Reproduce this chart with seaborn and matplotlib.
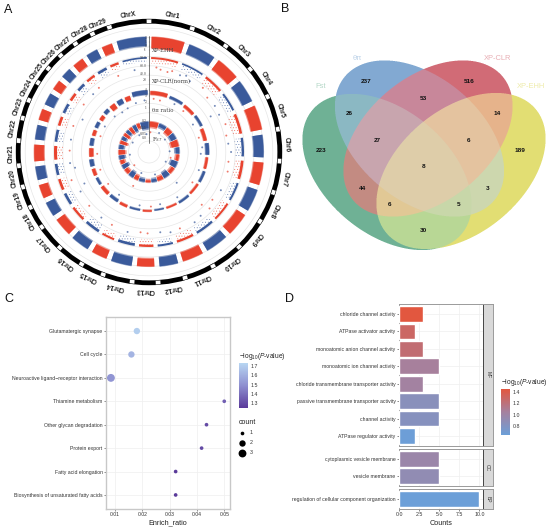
import numpy as np
import pandas as pd
import matplotlib
matplotlib.use("Agg")
import matplotlib.pyplot as plt
import seaborn as sns
from matplotlib.colors import LinearSegmentedColormap, Normalize
from matplotlib.cm import ScalarMappable

# Panel A: circular genome scan
chrom_names = [f"Chr{i}" for i in range(1, 30)] + ["ChrX"]
chrom_span = [19.3, 16.6, 14.8, 14.3, 15.0, 14.0, 14.0, 14.0, 14.5, 14.2, 13.3, 12.0, 11.4, 13.1, 10.5,
              12.0, 12.0, 10.0, 9.5, 9.5, 11.0, 10.0, 8.3, 8.7, 7.7, 7.8, 8.3, 8.6, 8.0, 17.6]
ehh_hi = [2.4, 2.3, 2.4, 2.3, 2.4, 2.2, 2.3, 2.3, 2.3, 2.2, 2.2, 2.3, 2.2, 2.4, 2.3,
          2.3, 2.2, 2.3, 2.3, 2.2, 2.3, 2.2, 2.3, 2.2, 2.2, 2.3, 2.2, 2.3, 2.2, 2.4]
ehh_lo = [-1.6, -1.3, -1.6, -1.4, -1.5, -1.3, -1.2, -1.3, -1.2, -1.0, -1.1, -1.0, -0.7, -0.9, -0.9,
          -1.0, -1.2, -1.1, -1.0, -1.2, -1.2, -1.1, -1.1, -1.2, -1.1, -1.2, -1.0, -1.1, -1.1, -0.9]
clr_base = [88, 90, 86, 88, 84, 86, 84, 88, 88, 86, 86, 88, 86, 84, 88,
            84, 86, 84, 84, 84, 82, 84, 84, 84, 84, 84, 86, 84, 86, 90]
clr_fringe = [62, 60, 48, 52, 40, 48, 50, 56, 54, 58, 52, 60, 54, 52, 60,
              48, 60, 46, 50, 48, 48, 52, 44, 54, 48, 48, 56, 52, 60, 70]
pi_hi = [3.6, 3.3, 3.2, 3.3, 3.1, 3.4, 3.2, 3.3, 3.2, 3.3, 3.2, 3.1, 3.3, 3.2, 3.3,
         3.2, 3.3, 3.2, 3.3, 3.4, 3.3, 3.3, 3.2, 3.3, 3.2, 3.4, 3.3, 3.3, 3.2, 3.8]
pi_lo = [2.4, 2.4, 2.2, 2.4, 2.0, 2.2, 2.3, 2.4, 2.4, 2.5, 2.5, 2.5, 2.6, 2.5, 2.4,
         2.2, 2.2, 2.3, 2.2, 2.1, 2.0, 2.1, 2.1, 2.2, 2.0, 2.2, 1.6, 1.8, 1.8, 2.4]
fst_hi = [0.30, 0.30, 0.30, 0.30, 0.30, 0.30, 0.30, 0.30, 0.30, 0.30, 0.30, 0.30, 0.30, 0.30, 0.30,
          0.30, 0.30, 0.30, 0.30, 0.30, 0.30, 0.30, 0.30, 0.30, 0.30, 0.30, 0.30, 0.30, 0.30, 0.30]
fst_lo = [0.13, 0.17, 0.12, 0.12, 0.08, 0.16, 0.18, 0.10, 0.17, 0.12, 0.16, 0.18, 0.20, 0.18, 0.15,
          0.12, 0.16, 0.10, 0.15, 0.12, 0.10, 0.14, 0.08, 0.14, 0.10, 0.12, 0.10, 0.10, 0.14, 0.09]
# isolated points: angle in degrees, value on that track
clr_theta = [5, 8, 13, 16, 22, 26, 30, 40, 47, 55, 62, 70, 78, 84, 90, 97, 104, 118, 127, 133, 141, 147, 158, 165, 172,
             181, 186, 195, 207, 216, 228, 240, 250, 258, 262, 271, 279, 289, 296, 306, 316, 322, 338, 350, 60, 135, 244]
clr_value = [40, 30, 24, 36, 28, 40, 22, 34, 10, 14, 8, 20, 6, 10, 24, 12, 18, 20, 8, 28, 24, 34, 26, 30, 18,
             20, 16, 28, 22, 18, 14, 6, 26, -14, 10, 8, 6, 12, -24, 16, 14, 20, 24, 30, -40, -20, -36]
pi_theta = [5, 12, 28, 40, 58, 74, 85, 92, 110, 125, 148, 168, 178, 190, 215, 232, 250, 268, 288, 300, 316, 326, 334, 345, 355, 205, 138]
pi_value = [1.6, 1.4, 1.8, 1.6, 1.2, 1.2, 1.6, 1.2, 1.5, 1.5, 1.6, 1.6, 1.9, 1.8, 1.3, 1.2, 1.2, 1.2, 1.0, 1.0, 0.6, 0.2, 0.4, 0.9, 1.2, -2.4, -1.4]
fst_theta = [4, 28, 52, 88, 105, 120, 165, 200, 228, 262, 300, 330, 352]
fst_value = [0.04, 0.08, 0.05, 0.06, 0.10, 0.03, 0.12, 0.10, 0.04, 0.03, 0.02, 0.03, 0.00]

# Panel B: Venn counts
venn_names = ["Fst", "θπ", "XP-CLR", "XP-EHH"]
venn_counts = [237, 516, 53, 26, 14, 27, 6, 223, 189, 8, 44, 3, 6, 5, 30]

# Panel C: KEGG dots
kegg_terms = ["Glutamatergic synapse", "Cell cycle", "Neuroactive ligand\u2212receptor interaction",
              "Thiamine metabolism", "Other glycan degradation", "Protein export",
              "Fatty acid elongation", "Biosynthesis of unsaturated fatty acids"]
kegg_ratio = [0.018, 0.016, 0.0085, 0.05, 0.0435, 0.0417, 0.0322, 0.0322]
kegg_p = [1.72, 1.63, 1.52, 1.36, 1.30, 1.30, 1.25, 1.25]
kegg_count = [2, 2, 3, 1, 1, 1, 1, 1]

# Panel D: GO bars
go_mf = ["chloride channel activity", "ATPase activator activity", "monoatomic anion channel activity",
         "monoatomic ion channel activity", "chloride transmembrane transporter activity",
         "passive transmembrane transporter activity", "channel activity", "ATPase regulator activity"]
go_mf_counts = [3, 2, 3, 5, 3, 5, 5, 2]
go_mf_p = [1.43, 1.28, 1.22, 1.05, 1.03, 0.85, 0.83, 0.66]
go_cc = ["cytoplasmic vesicle membrane", "vesicle membrane"]
go_cc_counts = [5, 5]
go_cc_p = [0.97, 0.90]
go_bp = ["regulation of cellular component organization"]
go_bp_counts = [10]
go_bp_p = [0.65]

W, H = 550, 529
RED, BLUE = "#E8432F", "#3A5A9B"
FONT = "Liberation Sans"

sns.set_theme(style="whitegrid")
plt.rcParams["font.family"] = [FONT, "DejaVu Sans"]
plt.rcParams["axes.unicode_minus"] = False
plt.rcParams["mathtext.fontset"] = "custom"
plt.rcParams["mathtext.rm"] = FONT
plt.rcParams["mathtext.it"] = FONT + ":italic"
plt.rcParams["hatch.linewidth"] = 0.3
fig = plt.figure(figsize=(W / 100, H / 100), dpi=100)


def px_axes(x0, y0, x1, y1, **kw):
    return fig.add_axes([x0 / W, 1 - y1 / H, (x1 - x0) / W, (y1 - y0) / H], **kw)


# ---------- A ----------
cx, cy, rmax = 149, 152, 146
pol = px_axes(cx - rmax, cy - rmax, cx + rmax, cy + rmax, projection="polar")
pol.set_theta_zero_location("N")
pol.set_theta_direction(-1)
pol.set_rlim(0, rmax)
pol.axis("off")

ends = np.cumsum(chrom_span)
starts = ends - np.array(chrom_span)
mids = (starts + ends) / 2
colors = [BLUE if i % 2 else RED for i in range(30)]
colors[-1] = BLUE
circle = np.linspace(0, 2 * np.pi, 361)
for r in np.arange(11, 125, 9.4):
    pol.plot(circle, np.full(361, r), color="#E6E6E6", lw=0.5, zorder=1)


def to_r(values, v0, v1, r0, r1):
    return r0 + (np.asarray(values, dtype=float) - v0) / (v1 - v0) * (r1 - r0)


def band(lo, hi, alpha=1.0, pad=1.3):
    pol.bar(np.radians(starts + pad), hi - lo, width=np.radians(np.array(chrom_span) - 2 * pad),
            bottom=lo, align="edge", color=colors, alpha=alpha, lw=0, zorder=2)


def fuzzy(lo, hi, edge=1.0, pad=1.3):
    # soft rim then solid core, the dense point clouds blur like this
    band(lo, hi, alpha=0.55, pad=pad)
    band(lo + edge, hi - edge * 0.6, pad=pad)


def stipple(lo, hi, pad=1.3):
    # thin spread of points under a track: dotted hatch, no fill
    bars = pol.bar(np.radians(starts + pad), hi - lo, width=np.radians(np.array(chrom_span) - 2 * pad),
                   bottom=lo, align="edge", facecolor="none", lw=0, zorder=2)
    for b, c in zip(bars, colors):
        b.set_edgecolor(c)
        b.set_hatch("......")
        b.set_alpha(0.75)


def strays(theta, r):
    idx = np.searchsorted(ends, theta)
    df = pd.DataFrame({"t": np.radians(theta), "r": r, "c": [colors[i] for i in idx]})
    sns.scatterplot(data=df, x="t", y="r", hue="c", palette={RED: RED, BLUE: BLUE}, s=2.0,
                    linewidth=0, alpha=0.7, legend=False, ax=pol, zorder=3)


ehh = lambda v: to_r(v, -2.5, 2.5, 100, 116)
clr = lambda v: to_r(v, 0, 100, 78, 95)
pit = lambda v: to_r(v, 0, 4, 47, 63)
fst = lambda v: to_r(v, 0, 0.32, 18, 32)
fuzzy(ehh(ehh_lo), ehh(ehh_hi))
band(clr(clr_base), clr(np.full(30, 100)))
stipple(clr(clr_fringe), clr(clr_base))
fuzzy(pit(pi_lo), pit(pi_hi), edge=0.8)
fuzzy(fst(fst_lo), fst(fst_hi), edge=1.6, pad=0.7)
strays(np.array(clr_theta, float), clr(clr_value))
strays(np.array(pi_theta, float), pit(pi_value))
strays(np.array(fst_theta, float), fst(fst_value))

# chromosome ring with white blocks at the ends
pol.bar(0, 4.8, width=2 * np.pi, bottom=128.4, color="black", lw=0, zorder=2)
pol.bar(np.radians(ends), 4.0, width=np.radians(2.2), bottom=128.8, color="white",
        edgecolor="black", lw=0.2, zorder=3)
for name, t in zip(chrom_names, mids):
    pol.text(np.radians(t), 138, name, rotation=-t, rotation_mode="anchor", ha="center", va="center",
             fontsize=4.8, color="#222222", fontweight="bold")

# track axes down the middle
pol.plot([0, 0], [9, 116], color="#444444", lw=0.5, zorder=4)
track_ticks = [("XP-EHH", 101, [114, 110, 106, 102], ["2", "1", "0", "-1"]),
               ("XP-CLR(norm)", 70, [94, 86, 78, 72], ["90.0", "60.0", "40.0", "20"]),
               ("θπ ratio", 41, [62, 56, 50, 44], ["4", "3", "2", "1"]),
               ("F$_{ST}$", 12, [31, 24, 18, 14], ["0.2", "0.15", "0.05", "0.0"])]
for label, lab_r, rs, labs in track_ticks:
    for r, lab in zip(rs, labs):
        pol.plot([0, np.radians(0.9 * 30 / r)], [r, r], color="#444444", lw=0.3, zorder=4)
        fig.text((cx - 2) / W, 1 - (cy - r) / H, lab, fontsize=2.2, ha="right", va="center", color="#444444",
                 family="DejaVu Serif")
    fig.text((cx + 2.5) / W, 1 - (cy - lab_r) / H, label, fontsize=3.9, ha="left", va="center", color="#444444",
             family="DejaVu Serif", zorder=5)

# ---------- overlay in pixel coordinates: Venn and panel letters ----------
over = px_axes(0, 0, W, H, facecolor="none")
over.set_xlim(0, W)
over.set_ylim(H, 0)
over.axis("off")

# the overlaps in the original are paler than either set, so each region gets its own colour
venn_shapes = [(387, 172, 39.5), (419.5, 138.5, 39.5), (428, 138.5, -39.5), (461, 171, -39.5)]
region_rgb = {1: (111, 178, 150), 2: (130, 170, 210), 4: (209, 107, 118), 8: (226, 222, 115),
              3: (140, 185, 195), 6: (200, 135, 155), 12: (230, 180, 140), 5: (195, 140, 130),
              9: (185, 215, 150), 10: (205, 215, 175), 7: (200, 165, 175), 14: (228, 195, 160),
              13: (225, 200, 150), 11: (200, 215, 170), 15: (222, 205, 170)}
ss = 4
x0v, x1v, y0v, y1v = 295, 550, 55, 255
gx, gy = np.meshgrid((np.arange((x1v - x0v) * ss) + 0.5) / ss + x0v, (np.arange((y1v - y0v) * ss) + 0.5) / ss + y0v)
code = np.zeros(gx.shape, dtype=int)
for bit, (ex, ey, ang) in enumerate(venn_shapes):
    c, s = np.cos(np.radians(ang)), np.sin(np.radians(ang))
    u = (gx - ex) * c + (gy - ey) * s
    v = -(gx - ex) * s + (gy - ey) * c
    code += ((u / 97) ** 2 + (v / 62) ** 2 <= 1).astype(int) << bit
rgba = np.zeros(gx.shape + (4,))
for k, rgb in region_rgb.items():
    rgba[code == k] = np.array(rgb + (255,)) / 255
rgb_pre = rgba[..., :3] * rgba[..., 3:]
hh, ww = gx.shape[0] // ss, gx.shape[1] // ss
a_small = rgba[..., 3].reshape(hh, ss, ww, ss).mean(axis=(1, 3))
c_small = rgb_pre.reshape(hh, ss, ww, ss, 3).mean(axis=(1, 3)) / np.maximum(a_small[..., None], 1e-6)
over.imshow(np.dstack([c_small, a_small]), extent=(x0v, x1v, y1v, y0v), interpolation="nearest", aspect="auto", zorder=1)
over.set_xlim(0, W)
over.set_ylim(H, 0)

venn_label_xy = [(321, 87), (357, 59), (498, 59), (531, 87)]
venn_label_col = ["#B5D8C8", "#BCD2E8", "#E8AEB4", "#EEEBA8"]
for name, (x, y), col in zip(venn_names, venn_label_xy, venn_label_col):
    over.text(x, y, name, color=col, fontsize=5.4, ha="center", va="center")
venn_xy = [(259, 245), (568, 245), (429, 294), (207, 341), (651, 341), (293, 421), (567, 421), (124, 453),
           (719, 453), (431, 500), (247, 565), (622, 565), (329, 612), (535, 612), (429, 692)]
for n, (x, y) in zip(venn_counts, venn_xy):
    over.text(280 + x / 3, y / 3, str(n), fontsize=4.6, fontweight="bold", ha="center", va="center", color="#111111")
for letter, x, y in [("A", 8, 10), ("B", 285, 9), ("C", 9, 299), ("D", 290, 299)]:
    over.text(x, y, letter, fontsize=9, ha="center", va="center", color="#111111")

# ---------- C ----------
cmap_c = LinearSegmentedColormap.from_list("kegg", ["#5A3A9A", "#8E8FD0", "#B8D6F2"])
norm_c = Normalize(1.25, 1.75)
kegg = pd.DataFrame({"term": kegg_terms, "ratio": kegg_ratio, "p": kegg_p, "count": kegg_count})
axc = px_axes(106, 317, 230, 509)
sns.scatterplot(data=kegg, x="ratio", y="term", size="count", sizes={1: 7, 2: 21, 3: 32},
                hue="p", hue_norm=norm_c, palette=cmap_c, linewidth=0, legend=False, ax=axc, zorder=3)
axc.set_xlim(0.0067, 0.0521)
axc.set_ylim(7.6, -0.6)
axc.set_xticks([0.01, 0.02, 0.03, 0.04, 0.05], ["0.01", "0.02", "0.03", "0.04", "0.05"])
axc.set_xlabel("Enrich_ratio", fontsize=5.2, labelpad=1.5, color="#222222")
axc.set_ylabel("")
axc.tick_params(axis="both", labelsize=3.7, length=1.5, width=0.4, pad=1, colors="#333333", left=True, bottom=True)
axc.grid(color="#EFEFEF", lw=0.5)
for s in axc.spines.values():
    s.set_color("#C8C8C8")
    s.set_linewidth(1.0)


def small_colorbar(box, cmap, norm, ticks, title):
    cax = px_axes(*box)
    cb = fig.colorbar(ScalarMappable(norm=norm, cmap=cmap), cax=cax)
    cb.set_ticks(ticks, labels=[f"{t:.1f}" for t in ticks])
    cb.ax.tick_params(labelsize=3.8, length=0, pad=2, colors="#333333")
    cb.outline.set_visible(False)
    cb.ax.grid(False)
    over.text(box[0], box[1] - 7, title, fontsize=4.8, ha="left", va="center", color="#222222")


small_colorbar((239, 363, 248, 408), cmap_c, Normalize(1.25, 1.73), [1.3, 1.4, 1.5, 1.6, 1.7],
               "\u2212log$_{10}$($\\mathit{P}$-value)")
over.text(239, 423, "count", fontsize=5, ha="left", va="center", color="#222222")
for s, y, lab in zip([7, 21, 32], [433, 442.5, 452.5], ["1", "2", "3"]):
    over.scatter([242], [y], s=s, color="black", linewidth=0)
    over.text(250, y, lab, fontsize=3.8, ha="left", va="center", color="#333333")

# ---------- D ----------
cmap_d = LinearSegmentedColormap.from_list("go", ["#6C9FD8", "#A5819F", "#E2573F"])
norm_d = Normalize(0.65, 1.43)


def go_panel(box, terms, counts, pvals, strip, last=False):
    ax = px_axes(*box)
    df = pd.DataFrame({"term": terms, "counts": counts, "p": pvals})
    pal = {t: cmap_d(norm_d(p)) for t, p in zip(terms, pvals)}
    sns.barplot(data=df, x="counts", y="term", hue="term", palette=pal, width=0.9, legend=False,
                saturation=1, ax=ax, zorder=3)
    n = len(terms)
    ax.set_ylim(n - 0.5 + 0.08, -0.5 - 0.08)
    ax.set_xlim(0, 10.45)
    ax.set_xticks([0, 2.5, 5, 7.5, 10], ["0.0", "2.5", "5.0", "7.5", "10.0"] if last else [""] * 5)
    ax.set_xlabel("Counts" if last else "", fontsize=5.2, labelpad=1.5, color="#222222")
    ax.set_ylabel("")
    ax.tick_params(axis="y", labelsize=3.7, length=1.5, width=0.4, pad=1, colors="#333333", left=True)
    ax.tick_params(axis="x", labelsize=3.8, length=1.5 if last else 0, width=0.4, pad=1, colors="#333333", bottom=last)
    ax.grid(color="#EFEFEF", lw=0.5)
    for s in ax.spines.values():
        s.set_color("#9A9A9A")
        s.set_linewidth(0.7)
    st = px_axes(box[2], box[1], 492.5, box[3], facecolor="#D9D9D9")
    st.set_xticks([])
    st.set_yticks([])
    st.grid(False)
    for s in st.spines.values():
        s.set_color("#9A9A9A")
        s.set_linewidth(0.7)
    st.spines["left"].set_color("#444444")
    st.text(0.5, 0.5, strip, rotation=-90, fontsize=3.6, ha="center", va="center", transform=st.transAxes, color="#333333")


go_panel((399, 304, 483, 446), go_mf, go_mf_counts, go_mf_p, "MF")
go_panel((399, 449, 483, 486), go_cc, go_cc_counts, go_cc_p, "CC")
go_panel((399, 489, 483, 509), go_bp, go_bp_counts, go_bp_p, "BP", last=True)
small_colorbar((501, 389, 510, 435), cmap_d, Normalize(0.65, 1.45), [0.8, 1.0, 1.2, 1.4],
               "\u2212log$_{10}$($\\mathit{P}$-value)")

fig.savefig("out.png", dpi=100)
